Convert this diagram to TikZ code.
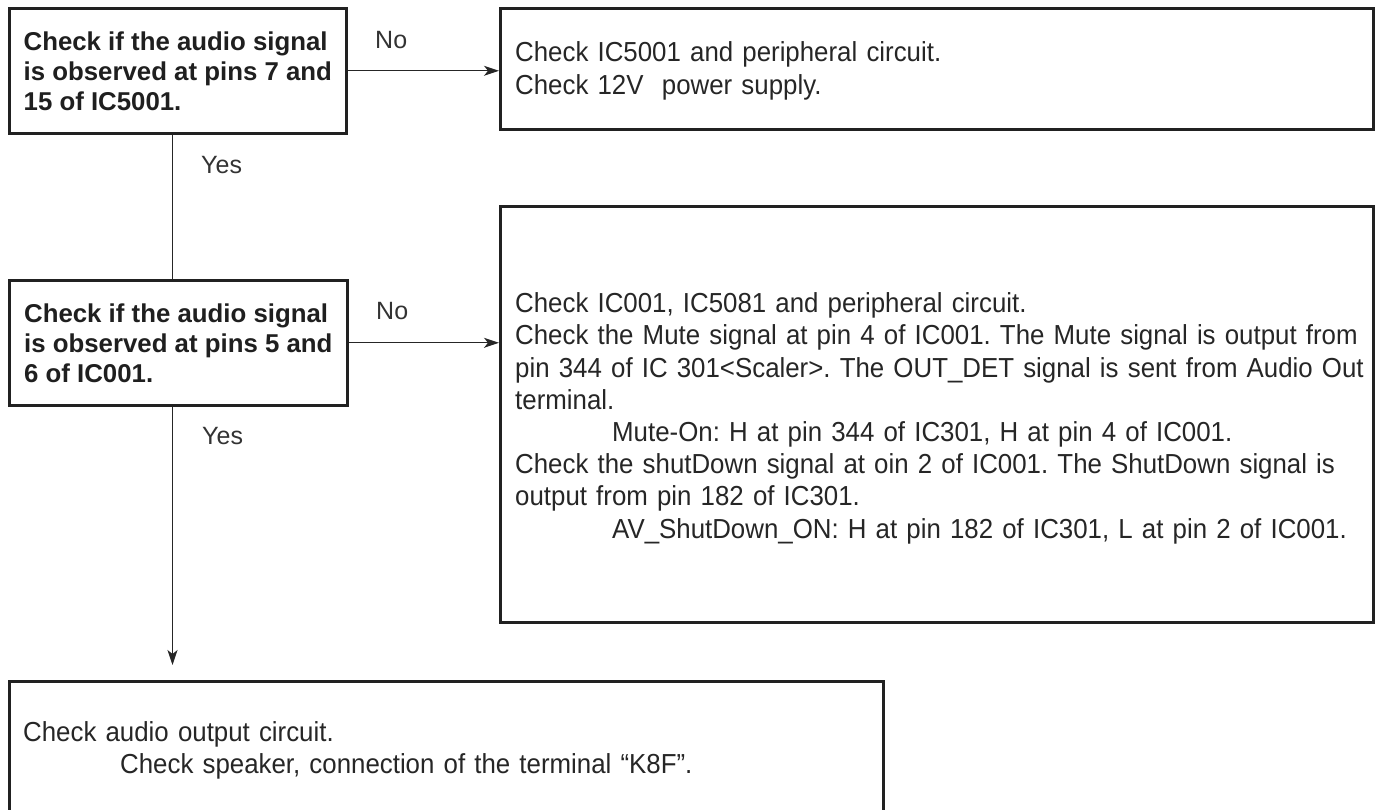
\documentclass[tikz,border=0pt]{standalone}
\usepackage{fontspec}
\setmainfont{Liberation Sans}
\newfontfamily\narrowfont{Liberation Sans}[FakeStretch=0.94]
\usetikzlibrary{arrows.meta}

% width of the text column in the right-hand boxes
\newlength\actw
\setlength\actw{843pt}
% a line spread to the full column width
\newcommand\fullline[1]{\makebox[\actw][s]{#1}}
\newcommand\indentline{\hspace*{97pt}}

\begin{document}
\frenchspacing
\begin{tikzpicture}[x=1pt,y=-1pt,
  frame/.style={draw=black!87, line width=2.6pt, anchor=north west,
    inner sep=0pt},
  question/.style={frame, minimum width=337pt, minimum height=125pt,
    align=left, font=\fontsize{25.8}{30}\selectfont\bfseries, text=black!88},
  actext/.style={anchor=west, inner sep=0pt, align=left,
    font=\narrowfont\fontsize{27.5}{32.2}\selectfont, text=black!85},
  link/.style={draw=black!85, line width=1.3pt},
  flow/.style={link, -{Stealth[length=15pt, width=10pt, inset=4pt]}},
  answer/.style={anchor=west, inner sep=0pt,
    font=\fontsize{25}{30}\selectfont, text=black!80}]

\useasboundingbox (0,0) rectangle (1378,810);

% decision boxes
\node[question] (q1) at (8,7)
  {Check if the audio signal\\is observed at pins 7 and\\15 of IC5001.};
\node[question, minimum width=338pt] (q2) at (8,279)
  {Check if the audio signal\\is observed at pins 5 and\\6 of IC001.};

% action boxes: frames first, their texts after
\node[frame, minimum width=873pt, minimum height=121pt] (a1) at (499,7) {};
\node[frame, minimum width=873pt, minimum height=416pt] (a2) at (499,205) {};
\node[frame, minimum width=874pt, minimum height=138pt] (a3) at (8,680) {};

\node[actext, text width=843pt] (a1text) at ([xshift=16pt,yshift=-2pt]a1.west)
  {Check IC5001 and peripheral circuit.\\
   Check 12V~ power supply.};

\node[actext, text width=843pt] (a2text) at ([xshift=16pt,yshift=-4pt]a2.west)
  {Check IC001, IC5081 and peripheral circuit.\\
   \fullline{Check the Mute signal at pin 4 of IC001. The Mute signal is output from}\\
   \fullline{pin 344 of IC 301<Scaler>. The OUT\_DET signal is sent from Audio Out}\\
   terminal.\\
   \indentline Mute-On: H at pin 344 of IC301, H at pin 4 of IC001.\\
   \fullline{Check the shutDown signal at oin 2 of IC001. The ShutDown signal is}\\
   output from pin 182 of IC301.\\
   \indentline AV\_ShutDown\_ON: H at pin 182 of IC301, L at pin 2 of IC001.};

\node[actext, text width=844pt] (a3text) at ([xshift=15pt]a3.west)
  {Check audio output circuit.\\
   \indentline Check speaker, connection of the terminal “K8F”.};

% trunk line and free end of the last arrow
\coordinate (vx) at (172.5,0);
\coordinate (tip) at (172.5,665);

% connectors
\draw[flow] (q1.east) -- (q1.east -| a1.west);
\draw[flow] (q2.east) -- (q2.east -| a2.west);
\draw[link] (q1.south -| vx) -- (q2.north -| vx);
\draw[flow] (q2.south -| vx) -- (tip);

% branch labels
\node[answer] (no1) at (375,40) {No};
\node[answer] (no2) at (376,311) {No};
\node[answer] (yes1) at (201,165) {Yes};
\node[answer] (yes2) at (202,436) {Yes};

\end{tikzpicture}
\end{document}
